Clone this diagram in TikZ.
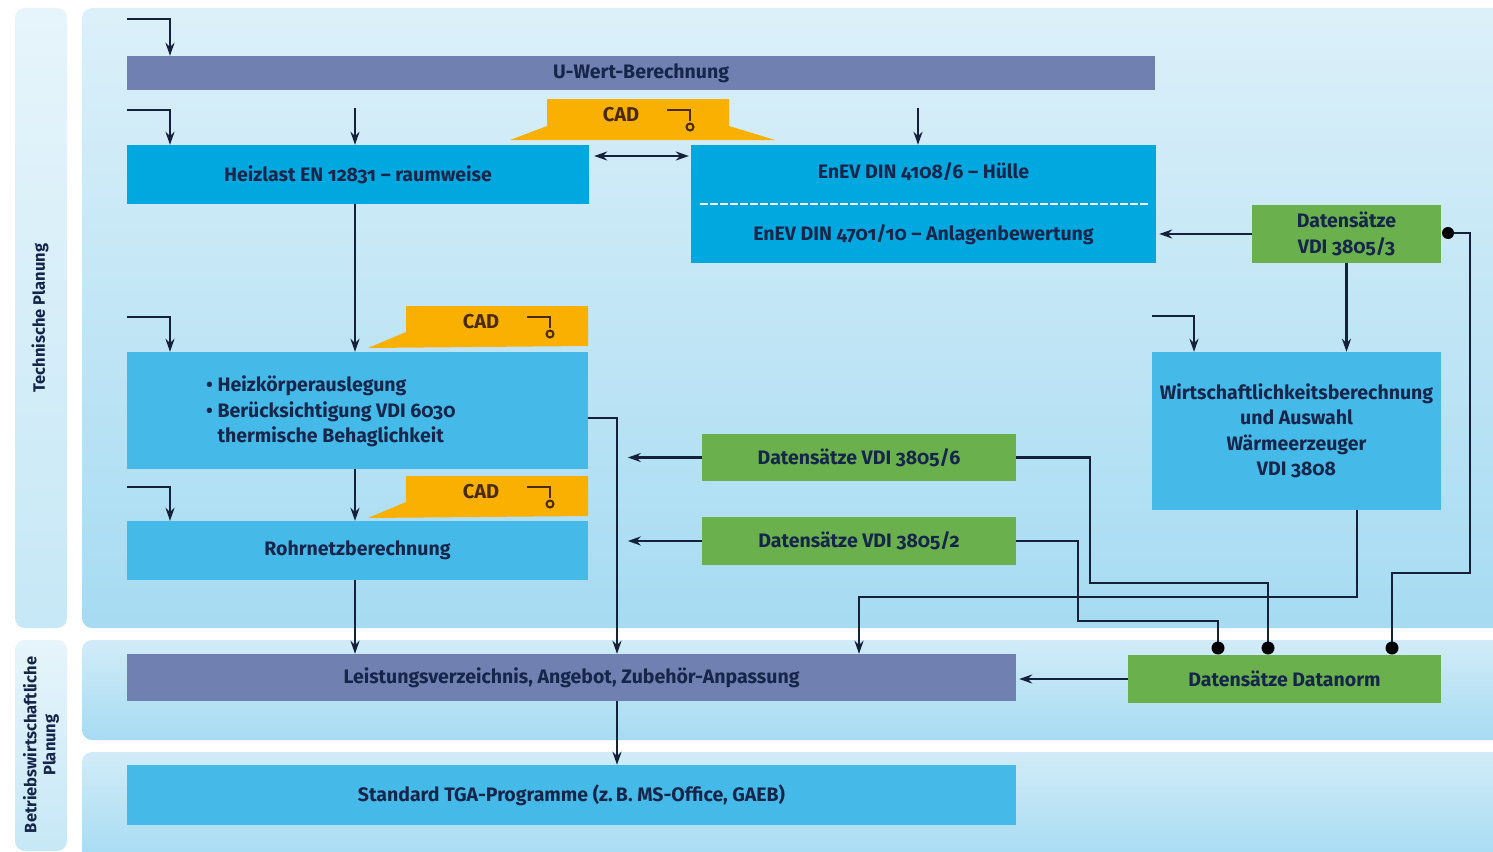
\documentclass[tikz,border=0pt]{standalone}
\usepackage{fontspec}
\setmainfont{Fira Sans}[Numbers=OldStyle]
\usetikzlibrary{arrows.meta,calc}
\definecolor{navy}{HTML}{15264A}
\definecolor{slate}{HTML}{7080B0}
\definecolor{cyanA}{HTML}{00A8E0}
\definecolor{cyanB}{HTML}{45B9E8}
\definecolor{greenA}{HTML}{6AB04C}
\definecolor{cadO}{HTML}{F9B000}
\definecolor{cadT}{HTML}{4A2A00}
\definecolor{panTop}{HTML}{DCF0F9}
\definecolor{panBot}{HTML}{A6DBF2}
\definecolor{lineC}{HTML}{15203A}
\tikzset{
  box/.style={rectangle, inner sep=0pt, text=navy, font=\fontsize{19.5}{25.5}\selectfont\bfseries, align=center},
  arr/.style={draw=lineC, line width=2.2pt, -{Stealth[length=13pt,width=9pt]}},
  dbl/.style={draw=lineC, line width=2.2pt, {Stealth[length=13pt,width=9pt]}-{Stealth[length=13pt,width=9pt]}},
  conn/.style={draw=lineC, line width=2.2pt},
  dotc/.style={circle, fill=black, inner sep=0pt, minimum size=13pt},
  lane/.style={rounded corners=10pt, top color=panTop, bottom color=panBot, draw=none},
  cadtxt/.style={text=cadT, font=\fontsize{20}{24}\selectfont\bfseries, inner sep=0pt},
  lanetxt/.style={text=navy, font=\fontsize{16.5}{19}\selectfont\bfseries, align=center, rotate=90, inner sep=0pt}
}
\begin{document}
\begin{tikzpicture}[x=1pt,y=-1pt]
\useasboundingbox (0,0) rectangle (1493,851);
\fill[white] (0,0) rectangle (1493,851);
% lanes
\path[lane, top color=panTop!70!white, bottom color=panTop!60!panBot] (15,8) rectangle (67,628);
\path[lane, top color=panTop!70!white, bottom color=panTop!60!panBot] (15,640) rectangle (67,851);
\path[lane] (82,8) rectangle (1503,628);
\path[lane, top color=panTop!80!panBot] (82,640) rectangle (1503,740);
\path[lane, top color=panTop!80!panBot] (82,752) rectangle (1503,861);
\node[lanetxt] (lt1) at (40,318) {Technische Planung};
\node[lanetxt] (lt2) at (41,745) {Betriebswirtschaftliche\\Planung};

% CAD shapes
\fill[cadO] (547,99) -- (729,99) -- (729,126) -- (775,140) -- (510,140) -- (547,126) -- cycle;
\fill[cadO] (406,306) -- (588,306) -- (588,346) -- (368,348) -- (406,332) -- cycle;
\fill[cadO] (406,476) -- (588,476) -- (588,516) -- (368,518) -- (406,502) -- cycle;
\node[cadtxt] (cad1) at (621,115) {CAD};
\node[cadtxt] (cad2) at (481,322) {CAD};
\node[cadtxt] (cad3) at (481,492) {CAD};
\foreach \c in {cad1,cad2,cad3}{
  \draw[cadT, line width=2pt] ([xshift=46pt,yshift=5pt]\c.center) -- ++(23,0) -- ++(0,11);
  \draw[cadT, line width=2pt] ([xshift=69pt,yshift=-12pt]\c.center) circle (3.5pt);
}

% boxes
\node[box, fill=slate, minimum width=1028pt, minimum height=34pt] (uwert) at (641,73) {U-Wert-Berechnung};
\node[box, fill=cyanA, minimum width=462pt, minimum height=59pt] (heiz) at (358,174.5) {Heizlast EN 12831 – raumweise};
\node[box, fill=cyanA, minimum width=465pt, minimum height=118pt] (enev) at (923.5,204) {};
\node[box] (enev1) at (923.5,172) {EnEV DIN 4108/6 – Hülle};
\node[box] (enev2) at (923.5,235) {EnEV DIN 4701/10 – Anlagenbewertung};
\draw[white, line width=1.4pt, dash pattern=on 8pt off 2pt] (700,204) -- (1148,204);
\node[box, fill=greenA, minimum width=189pt, minimum height=58pt] (d3) at (1346.5,234) {Datensätze\\VDI 3805/3};
\node[box, fill=cyanB, minimum width=461pt, minimum height=117pt] (hk) at (357.5,410.5) {};
\node[box, align=left, anchor=west] (hktxt) at (206,411.5) {\textbullet\ Heizkörperauslegung\\\textbullet\ Berücksichtigung VDI 6030\\\phantom{\textbullet\ }thermische Behaglichkeit};
\node[box, fill=cyanB, minimum width=461pt, minimum height=59pt] (rohr) at (357.5,550.5) {Rohrnetzberechnung};
\node[box, fill=greenA, minimum width=314pt, minimum height=47pt] (d6) at (859,457.5) {Datensätze VDI 3805/6};
\node[box, fill=greenA, minimum width=314pt, minimum height=48pt] (d2) at (859,541) {Datensätze VDI 3805/2};
\node[box, fill=cyanB, minimum width=289pt, minimum height=158pt] (wirt) at (1296.5,431) {Wirtschaftlichkeitsberechnung\\und Auswahl\\Wärmeerzeuger\\VDI 3808};
\node[box, fill=slate, minimum width=889pt, minimum height=47pt] (lv) at (571.5,677.5) {Leistungsverzeichnis, Angebot, Zubehör-Anpassung};
\node[box, fill=greenA, minimum width=313pt, minimum height=48pt] (dn) at (1284.5,679) {Datensätze Datanorm};
\node[box, fill=cyanB, minimum width=889pt, minimum height=60pt] (std) at (571.5,795) {Standard TGA-Programme (z.\,B. MS-Office, GAEB)};

% free ends and dot positions
\coordinate (s1) at (127,19);
\coordinate (s2) at (127,110);
\coordinate (s3) at (355,108);
\coordinate (s4) at (918,108);
\coordinate (s5) at (127,317);
\coordinate (s6) at (127,487);
\coordinate (s7) at (1152,316);
\coordinate (c1) at (1218,648);
\coordinate (c2) at (1268,648);
\coordinate (c3) at (1392,648);
\coordinate (c4) at (1448,233);

% connectors
\draw[arr] (s1) -| (170,0 |- uwert.north);
\draw[arr] (s2) -| (170,0 |- heiz.north);
\draw[arr] (s3) -- (s3 |- heiz.north);
\draw[arr] (s4) -- (s4 |- enev.north);
\draw[dbl, shorten <=5pt, shorten >=2pt] (heiz.east |- 0,156) -- (enev.west |- 0,156);
\draw[arr, shorten >=3pt] (d3.west) -- (enev.east |- d3.west);
\draw[arr] (d3.south) -- (d3.south |- wirt.north);
\draw[arr] (355,0 |- heiz.south) -- (355,0 |- hk.north);
\draw[arr] (s5) -| (170,0 |- hk.north);
\draw[arr] (hk.east |- 0,418) -| (617,0 |- lv.north);
\draw[arr] (355,0 |- hk.south) -- (355,0 |- rohr.north);
\draw[arr] (s6) -| (170,0 |- rohr.north);
\draw[arr] (355,0 |- rohr.south) -- (355,0 |- lv.north);
\draw[arr] (d6.west) -- ++(-74,0);
\draw[arr] (d2.west) -- ++(-74,0);
\draw[arr] (s7) -| (1194,0 |- wirt.north);
\draw[arr] (1357,0 |- wirt.south) |- (859,597) -- (859,0 |- lv.north);
\draw[arr, shorten >=3pt] (dn.west) -- (lv.east |- dn.west);
\draw[arr] (617,0 |- lv.south) -- (617,0 |- std.north);
\draw[conn] (d2.east) -| (1078,621) -| (c1);
\draw[conn] (d6.east) -| (1090,583) -| (c2);
\draw[conn] (c4) -| (1470,573) -| (c3);
\node[dotc] (p1) at (c1) {};
\node[dotc] (p2) at (c2) {};
\node[dotc] (p3) at (c3) {};
\node[dotc, minimum size=12pt] (p4) at (c4) {};
\end{tikzpicture}
\end{document}
